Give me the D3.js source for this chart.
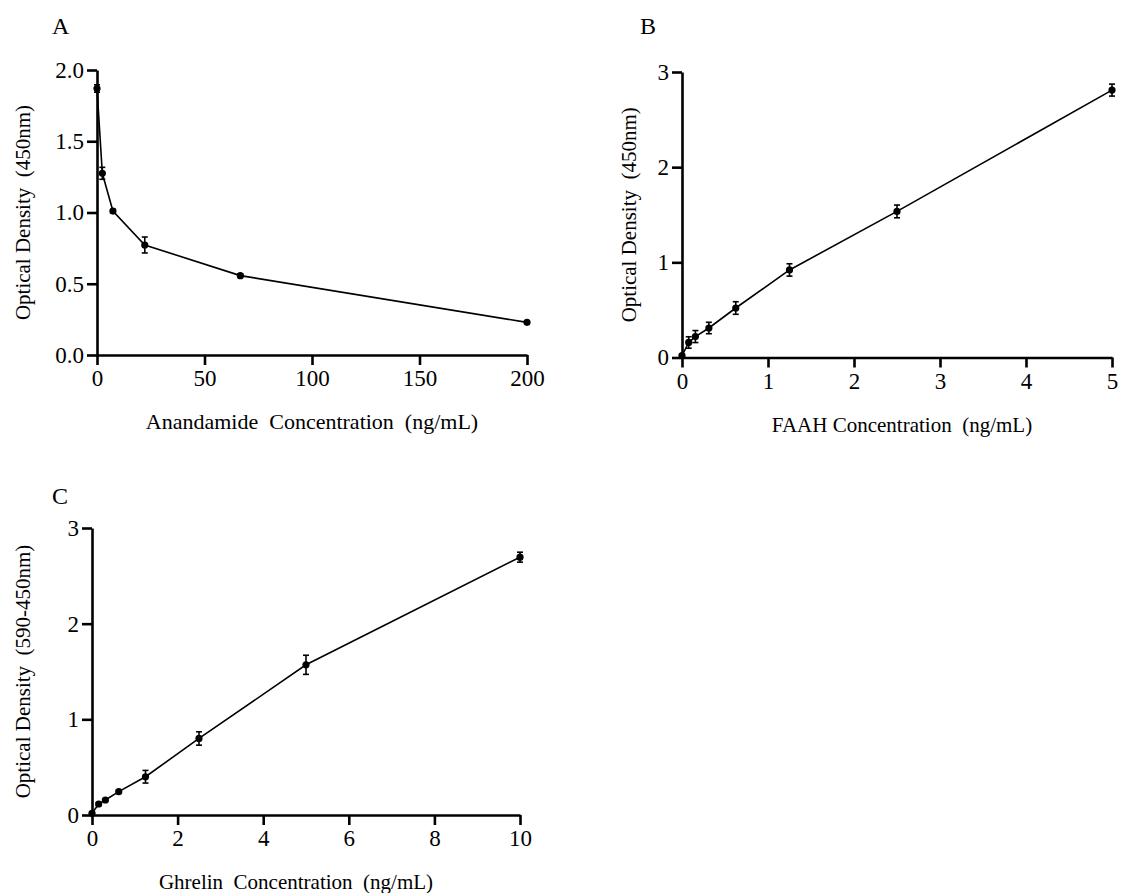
<!DOCTYPE html>
<html>
<head>
<meta charset="utf-8">
<script src="https://cdn.jsdelivr.net/npm/d3@7"></script>
<style>
  html, body { margin: 0; padding: 0; background: #fff; }
  svg text { font-family: "Liberation Serif", "Times New Roman", serif; fill: #000; }
</style>
</head>
<body>
<svg id="fig" width="1121" height="893"></svg>
<script>
// Panel A: anandamide competitive standard curve
const anandamideConc = [0, 2.47, 7.41, 22.22, 66.67, 200];
const anandamideOD   = [1.87, 1.275, 1.01, 0.772, 0.557, 0.229];
const anandamideSD   = [0.026, 0.042, 0.012, 0.056, 0.012, 0.01];
const anandamideXTicks = [0, 50, 100, 150, 200];
const anandamideYTicks = [0, 0.5, 1.0, 1.5, 2.0];

// Panel B: FAAH standard curve
const faahConc = [0, 0.078, 0.156, 0.3125, 0.625, 1.25, 2.5, 5];
const faahOD   = [0.02, 0.158, 0.22, 0.31, 0.52, 0.92, 1.535, 2.81];
const faahSD   = [0.01, 0.06, 0.063, 0.06, 0.066, 0.065, 0.067, 0.063];
const faahXTicks = [0, 1, 2, 3, 4, 5];
const faahYTicks = [0, 1, 2, 3];

// Panel C: ghrelin standard curve
const ghrelinConc = [0, 0.156, 0.3125, 0.625, 1.25, 2.5, 5, 10];
const ghrelinOD   = [0.018, 0.115, 0.157, 0.244, 0.40, 0.80, 1.57, 2.695];
const ghrelinSD   = [0.01, 0.015, 0.015, 0.015, 0.066, 0.07, 0.1, 0.052];
const ghrelinXTicks = [0, 2, 4, 6, 8, 10];
const ghrelinYTicks = [0, 1, 2, 3];

const svg = d3.select("#fig");

function drawPanel(opt) {
  const x = d3.scaleLinear().domain(opt.xDomain).range([opt.left, opt.right]);
  const y = d3.scaleLinear().domain(opt.yDomain).range([opt.bottom, opt.top]);
  const g = svg.append("g");

  const xAxis = g.append("g")
    .attr("transform", `translate(0,${opt.bottom})`)
    .call(d3.axisBottom(x).tickValues(opt.xTicks).tickSize(10).tickPadding(5)
      .tickFormat(d3.format(opt.xFmt)).tickSizeOuter(0));
  const yAxis = g.append("g")
    .attr("transform", `translate(${opt.left},0)`)
    .call(d3.axisLeft(y).tickValues(opt.yTicks).tickSize(10).tickPadding(3)
      .tickFormat(d3.format(opt.yFmt)).tickSizeOuter(0));

  [xAxis, yAxis].forEach(a => {
    a.select(".domain").attr("stroke", "#000").attr("stroke-width", 2.6);
    a.selectAll(".tick line").attr("stroke", "#000").attr("stroke-width", 2.6);
    a.selectAll(".tick text").attr("font-size", 23)
      .style("font-family", "'Liberation Serif', 'Times New Roman', serif");
  });

  const pts = opt.conc.map((c, i) => ({ x: c, y: opt.od[i], e: opt.sd[i] }));

  g.append("path")
    .datum(pts)
    .attr("fill", "none")
    .attr("stroke", "#000")
    .attr("stroke-width", 1.6)
    .attr("d", d3.line().x(d => x(d.x)).y(d => y(d.y)));

  const eb = g.append("g").selectAll("g").data(pts).join("g")
    .attr("stroke", "#000").attr("stroke-width", 1.6);
  eb.append("line")
    .attr("x1", d => x(d.x)).attr("x2", d => x(d.x))
    .attr("y1", d => y(d.y - d.e)).attr("y2", d => y(d.y + d.e));
  eb.append("line")
    .attr("x1", d => x(d.x) - 3).attr("x2", d => x(d.x) + 3)
    .attr("y1", d => y(d.y + d.e)).attr("y2", d => y(d.y + d.e));
  eb.append("line")
    .attr("x1", d => x(d.x) - 3).attr("x2", d => x(d.x) + 3)
    .attr("y1", d => y(d.y - d.e)).attr("y2", d => y(d.y - d.e));

  g.append("g").selectAll("circle").data(pts).join("circle")
    .attr("cx", d => x(d.x)).attr("cy", d => y(d.y)).attr("r", 3.6)
    .attr("fill", "#000");

  // axis titles
  g.append("text")
    .attr("x", (opt.left + opt.right) / 2 + (opt.xTitleShift || 0))
    .attr("y", opt.bottom + 74)
    .attr("text-anchor", "middle")
    .attr("font-size", opt.xTitleSize || 22)
    .style("white-space", "pre")
    .text(opt.xTitle);
  g.append("text")
    .attr("transform", `translate(${opt.yTitleX},${(opt.top + opt.bottom) / 2}) rotate(-90)`)
    .attr("text-anchor", "middle")
    .attr("font-size", 21)
    .style("white-space", "pre")
    .text(opt.yTitle);

  // panel letter
  g.append("text")
    .attr("x", opt.letterX).attr("y", opt.letterY)
    .attr("font-size", 24)
    .text(opt.letter);
}

drawPanel({
  letter: "A", letterX: 52, letterY: 34,
  left: 97, right: 527, top: 70, bottom: 355,
  xDomain: [0, 200], yDomain: [0, 2],
  xTicks: anandamideXTicks, yTicks: anandamideYTicks,
  xFmt: "d", yFmt: ".1f",
  conc: anandamideConc, od: anandamideOD, sd: anandamideSD,
  xTitle: "Anandamide  Concentration  (ng/mL)",
  yTitle: "Optical Density  (450nm)", yTitleX: 30
});

drawPanel({
  letter: "B", letterX: 640, letterY: 34,
  left: 682, right: 1112, top: 72, bottom: 357.5,
  xDomain: [0, 5], yDomain: [0, 3],
  xTicks: faahXTicks, yTicks: faahYTicks,
  xFmt: "d", yFmt: "d",
  conc: faahConc, od: faahOD, sd: faahSD,
  xTitle: "FAAH Concentration  (ng/mL)", xTitleSize: 21, xTitleShift: 5,
  yTitle: "Optical Density  (450nm)", yTitleX: 636
});

drawPanel({
  letter: "C", letterX: 52, letterY: 504,
  left: 92, right: 520, top: 528, bottom: 815,
  xDomain: [0, 10], yDomain: [0, 3],
  xTicks: ghrelinXTicks, yTicks: ghrelinYTicks,
  xFmt: "d", yFmt: "d",
  conc: ghrelinConc, od: ghrelinOD, sd: ghrelinSD,
  xTitle: "Ghrelin  Concentration  (ng/mL)", xTitleSize: 21, xTitleShift: -10,
  yTitle: "Optical Density  (590-450nm)", yTitleX: 30
});
</script>
</body>
</html>
